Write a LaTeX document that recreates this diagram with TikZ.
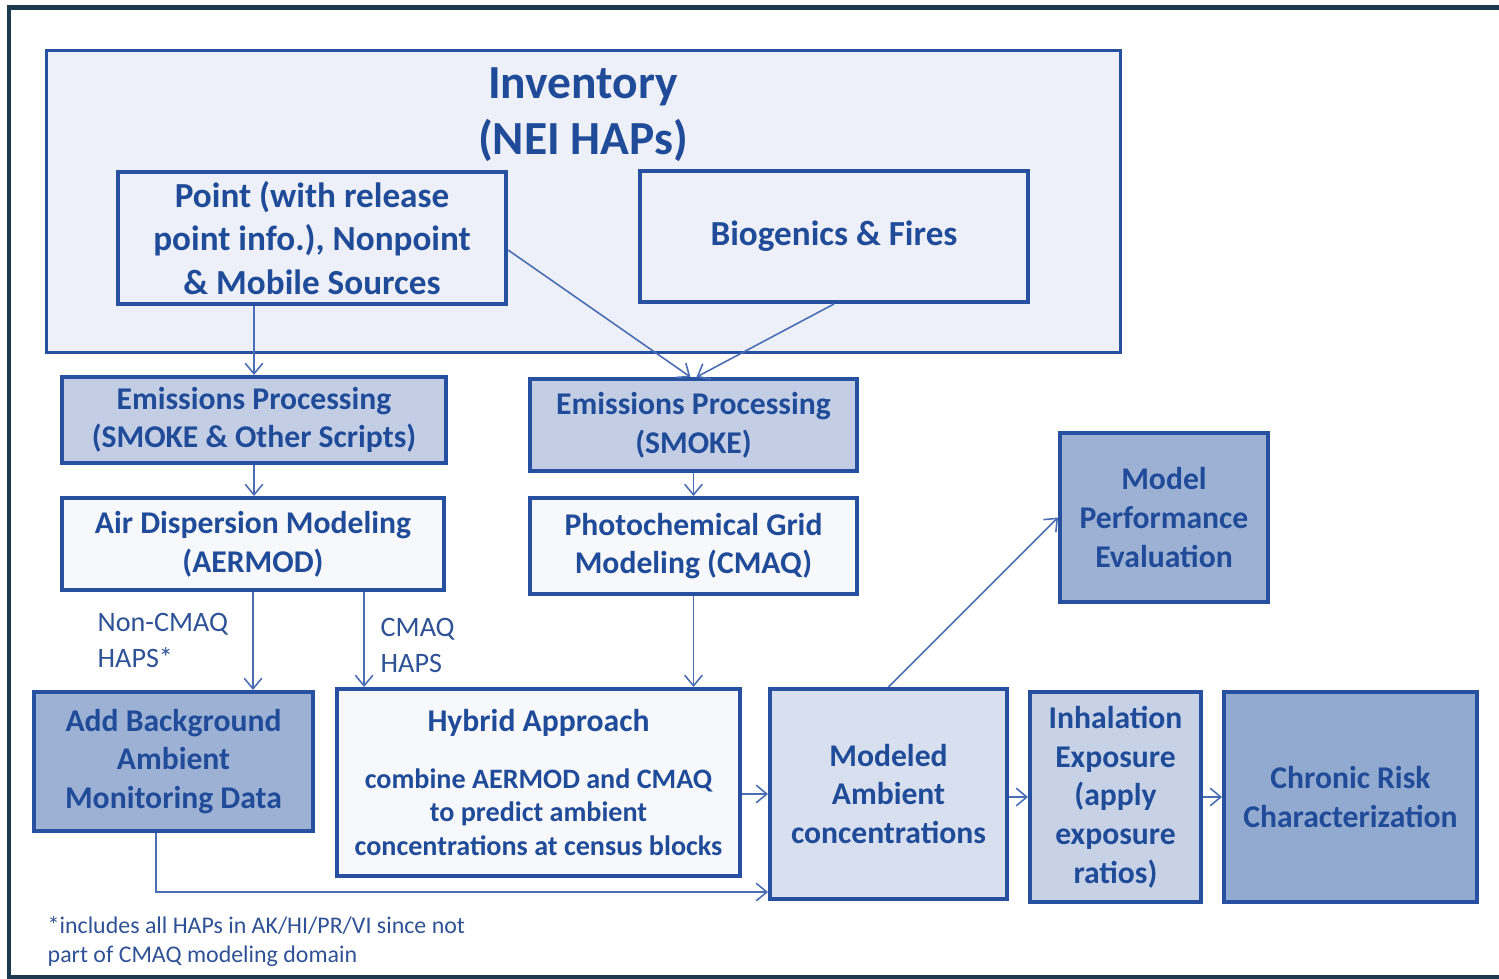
\documentclass[tikz,border=0pt]{standalone}
\usepackage{fontspec}
\setmainfont{Carlito}
\usetikzlibrary{arrows.meta}
\definecolor{frameC}{HTML}{1B3A4F}
\definecolor{lineC}{HTML}{2750A0}
\definecolor{txtC}{HTML}{1F4B98}
\definecolor{arrC}{HTML}{4A6DB3}
\definecolor{lblC}{HTML}{2E5295}
\definecolor{invC}{HTML}{EDF0F8}
\definecolor{epC}{HTML}{C3CEE5}
\definecolor{wC}{HTML}{F7F8FC}
\definecolor{bgC}{HTML}{9DB1D5}
\definecolor{modC}{HTML}{D8E0EF}
\definecolor{inhC}{HTML}{C7D2E7}
\definecolor{crC}{HTML}{92A9D0}
\tikzset{box/.style={draw=lineC, line width=1.1pt, text=txtC, font=\bfseries\fontsize{9}{11}\selectfont, align=center, inner sep=0pt}}
\tikzset{bigbox/.style={box, font=\bfseries\fontsize{10}{12.4}\selectfont}}
\tikzset{arr/.style={draw=arrC, line width=0.45pt, -{Straight Barb[length=3pt,width=5pt]}}}
\tikzset{lbl/.style={text=lblC, font=\fontsize{8}{10}\selectfont, align=left, inner sep=0pt, anchor=north west}}

\begin{document}
\begin{tikzpicture}[x=0.01cm, y=-0.01cm]
  \useasboundingbox (0,0) rectangle (1499,979);
  \draw[frameC, line width=1.15pt] (9,7.5) rectangle (1520,977);

  % inventory
  \node[box, fill=invC, line width=0.9pt, minimum width=10.73cm, minimum height=3.01cm] (inv) at (583.5,201.5) {};
  \node[text=txtC, font=\bfseries\fontsize{13.5}{15.8}\selectfont, align=center, inner sep=0pt, anchor=north] (invtitle) at (583,67) {Inventory\\(NEI HAPs)};
  \node[bigbox, minimum width=3.88cm, minimum height=1.32cm] (pt) at (312,238) {Point (with release\\point info.), Nonpoint\\\& Mobile Sources};
  \node[bigbox, minimum width=3.88cm, minimum height=1.31cm] (bio) at (834,236.5) {Biogenics \& Fires};

  % processing and modeling
  \node[box, fill=epC, minimum width=3.84cm, minimum height=0.86cm] (ep1) at (254,420) {Emissions Processing\\(SMOKE \& Other Scripts)};
  \node[box, fill=epC, minimum width=3.27cm, minimum height=0.92cm] (ep2) at (693.5,425) {Emissions Processing\\(SMOKE)};
  \node[box, fill=wC, minimum width=3.82cm, minimum height=0.92cm] (aer) at (253,544) {Air Dispersion Modeling\\(AERMOD)};
  \node[box, fill=wC, minimum width=3.27cm, minimum height=0.96cm] (cmaq) at (693.5,546) {Photochemical Grid\\Modeling (CMAQ)};

  % results
  \node[box, fill=bgC, minimum width=2.79cm, minimum height=1.39cm] (bg) at (173.5,761.5) {Add Background\\Ambient\\Monitoring Data};
  \node[box, fill=wC, font=\bfseries\fontsize{8}{9.4}\selectfont, minimum width=4.03cm, minimum height=1.87cm] (hyb) at (538.5,782.5) {{\fontsize{9}{11}\selectfont Hybrid Approach}\\[6.8pt]combine AERMOD and CMAQ\\to predict ambient\\concentrations at census blocks};
  \node[box, fill=modC, minimum width=2.37cm, minimum height=2.10cm] (modeled) at (888.5,794) {Modeled\\Ambient\\concentrations};
  \node[box, fill=inhC, minimum width=1.71cm, minimum height=2.10cm] (inh) at (1115.5,797) {Inhalation\\Exposure\\(apply\\exposure\\ratios)};
  \node[box, fill=crC, minimum width=2.53cm, minimum height=2.10cm] (chronic) at (1350.5,797) {Chronic Risk\\Characterization};
  \node[box, fill=bgC, minimum width=2.08cm, minimum height=1.69cm] (perf) at (1164,517.5) {Model\\Performance\\Evaluation};

  % labels
  \node[lbl] (noncmaq) at (97,613) {Non-CMAQ\\HAPS*};
  \node[lbl] (cmaqhaps) at (380,618) {CMAQ\\HAPS};
  \node[lbl, font=\fontsize{6.8}{8.25}\selectfont] (note) at (47,916) {*includes all HAPs in AK/HI/PR/VI since not\\part of CMAQ modeling domain};

  % connectors
  \draw[arr] (ep1.north |- pt.south) -- (ep1.north);
  \draw[arr] ([yshift=-0.12cm]pt.east) -- ([xshift=-0.03cm]ep2.north);
  \draw[arr] (bio.south) -- ([xshift=0.03cm]ep2.north);
  \draw[arr] (ep1.south) -- (ep1.south |- aer.north);
  \draw[arr] (ep2.south) -- (cmaq.north);
  \draw[arr] (aer.south) -- (aer.south |- bg.north);
  \coordinate (split) at ([xshift=1.11cm]aer.south);
  \draw[arr] (split) -- (split |- hyb.north);
  \draw[arr] (cmaq.south) -- (cmaq.south |- hyb.north);
  \draw[arr] (hyb.east |- modeled.west) -- (modeled.west);
  \coordinate (bgout) at ([xshift=-0.175cm]bg.south);
  \draw[arr] (bgout) |- ([yshift=-0.98cm]modeled.west);
  \draw[arr] (modeled.north) -- (perf.west);
  \draw[arr] (modeled.east |- inh.west) -- (inh.west);
  \draw[arr] (inh.east) -- (chronic.west);
\end{tikzpicture}
\end{document}
